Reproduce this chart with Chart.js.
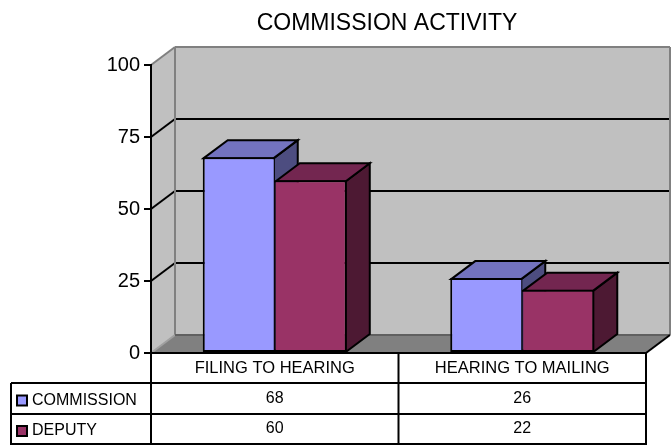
<!DOCTYPE html>
<html>
<head>
<meta charset="utf-8">
<style>
  html, body { margin: 0; padding: 0; background: #fff; }
  #wrap { position: relative; width: 671px; height: 445px; }
</style>
<script src="https://cdn.jsdelivr.net/npm/chart.js@4"></script>
</head>
<body>
<div id="wrap"><canvas id="chart"></canvas></div>
<script>
// ─── DATA ───────────────────────────────
const categories = ['FILING TO HEARING', 'HEARING TO MAILING'];
const seriesNames = ['COMMISSION', 'DEPUTY'];
const commission = [68, 26];
const deputy = [60, 22];
const chartTitle = 'COMMISSION ACTIVITY';

// ─── COLOURS ────────────────────────────
const frontColors = ['#9999ff', '#993366'];
const topColors = ['#7373bf', '#732650'];
const sideColors = ['#4d4d80', '#4d1933'];

// 3D depth of the walls and bars
const DX = 24, DY = -18;
const FONT = 'Arial, "Liberation Sans", sans-serif';

function poly(ctx, pts, fill, stroke, lw) {
  ctx.beginPath();
  pts.forEach((p, i) => i ? ctx.lineTo(p[0], p[1]) : ctx.moveTo(p[0], p[1]));
  ctx.closePath();
  if (fill) { ctx.fillStyle = fill; ctx.fill(); }
  if (stroke) { ctx.strokeStyle = stroke; ctx.lineWidth = lw || 2; ctx.lineJoin = 'miter'; ctx.stroke(); }
}

function line(ctx, x1, y1, x2, y2, color, lw) {
  ctx.beginPath();
  ctx.moveTo(x1, y1);
  ctx.lineTo(x2, y2);
  ctx.strokeStyle = color;
  ctx.lineWidth = lw || 2;
  ctx.stroke();
}

// ─── WALLS, FLOOR, BAR SIDES ────────────
const box3d = {
  id: 'box3d',
  afterLayout(chart) {
    // title sits over the plot, not over the canvas
    chart.titleBlock.left += 64;
    chart.titleBlock.right += 64;
  },
  beforeDraw(chart) {
    const { ctx, scales: { x, y } } = chart;
    const l = x.left, r = x.right, t = y.top, b = y.bottom;
    ctx.save();

    // side wall, back wall, floor
    poly(ctx, [[l, b], [l + DX, b + DY], [l + DX, t + DY], [l, t]], '#c0c0c0');
    poly(ctx, [[l + DX, b + DY], [r + DX, b + DY], [r + DX, t + DY], [l + DX, t + DY]], '#c0c0c0');
    poly(ctx, [[l, b], [l + DX, b + DY], [r + DX, b + DY], [r, b]], '#808080');

    // grid lines run along the side wall then the back wall
    y.ticks.forEach(tk => {
      if (tk.value === 0 || tk.value === y.max) return;
      const py = y.getPixelForValue(tk.value);
      line(ctx, l, py, l + DX, py + DY, '#000');
      line(ctx, l + DX, py + DY, r + DX, py + DY, '#000');
    });

    // wall outlines
    line(ctx, l, t, l + DX, t + DY, '#808080');
    line(ctx, l + DX, t + DY, r + DX, t + DY, '#808080');
    line(ctx, l + DX, t + DY, l + DX, b + DY, '#808080');
    line(ctx, r + DX, t + DY, r + DX, b + DY, '#808080');
    line(ctx, l, b, l + DX, b + DY, '#a0a0a0');
    line(ctx, l + DX, b + DY, r + DX, b + DY, '#606060');
    line(ctx, r, b, r + DX, b + DY, '#000');
    ctx.restore();
  },
  beforeDatasetsDraw(chart) {
    // top and side faces, front faces are the real bars
    const { ctx } = chart;
    ctx.save();
    chart.data.datasets.forEach((ds, i) => {
      chart.getDatasetMeta(i).data.forEach(bar => {
        const x0 = bar.x - bar.width / 2 + 1, x1 = bar.x + bar.width / 2 - 1, top = bar.y + 1;
        poly(ctx, [[x1, top], [x1 + DX, top + DY], [x1 + DX, bar.base + DY], [x1, bar.base]], sideColors[i], '#000');
        poly(ctx, [[x0, top], [x0 + DX, top + DY], [x1 + DX, top + DY], [x1, top]], topColors[i], '#000');
      });
    });
    ctx.restore();
  },
  afterDraw(chart) {
    // data table under the plot, doubles as the legend
    const { ctx, scales: { x, y } } = chart;
    const l = x.left, r = x.right, b = y.bottom;
    const mid = (x.getPixelForTick(0) + x.getPixelForTick(1)) / 2;
    const rows = [b + 30, b + 61, b + 91];
    const tableLeft = 11;
    const values = [commission, deputy];
    ctx.save();
    line(ctx, l, b, l, rows[2] + 1, '#000');
    line(ctx, mid, b, mid, rows[2] + 1, '#000');
    line(ctx, r, b, r, rows[2] + 1, '#000');
    line(ctx, tableLeft, rows[0], tableLeft, rows[2] + 1, '#000');
    rows.forEach(ry => line(ctx, tableLeft, ry, r + 1, ry, '#000'));

    ctx.textBaseline = 'middle';
    seriesNames.forEach((name, i) => {
      const cy = (rows[i] + rows[i + 1]) / 2;
      ctx.fillStyle = frontColors[i];
      ctx.fillRect(17, cy - 3, 10, 10);
      ctx.strokeStyle = '#000';
      ctx.lineWidth = 2;
      ctx.strokeRect(17, cy - 3, 10, 10);
      ctx.fillStyle = '#000';
      ctx.font = '16px ' + FONT;
      ctx.textAlign = 'left';
      ctx.fillText(name, 32, cy + 2);
      ctx.textAlign = 'center';
      values[i].forEach((v, j) => ctx.fillText(String(v), x.getPixelForTick(j), cy));
    });
    ctx.restore();
  }
};

// ─── CHART ──────────────────────────────
Chart.defaults.animation = false;
new Chart(document.getElementById('chart'), {
  type: 'bar',
  data: {
    labels: categories,
    datasets: [
      { label: seriesNames[0], data: commission, backgroundColor: frontColors[0],
        borderWidth: { left: 2, top: 2, right: 1, bottom: 2 } },
      { label: seriesNames[1], data: deputy, backgroundColor: frontColors[1],
        borderWidth: { left: 1, top: 2, right: 2, bottom: 2 } }
    ].map(ds => Object.assign(ds, {
      borderColor: '#000',
      borderSkipped: false,
      barPercentage: 1,
      categoryPercentage: 0.582
    }))
  },
  options: {
    responsive: true,
    maintainAspectRatio: false,
    animation: false,
    layout: { padding: { left: 0, right: 25, top: 0, bottom: 0 } },
    plugins: {
      legend: { display: false },
      tooltip: { enabled: false },
      title: {
        display: true,
        text: chartTitle,
        color: '#000',
        font: { family: FONT, size: 23, weight: 'normal' },
        padding: { top: 10, bottom: 27.4 }
      }
    },
    scales: {
      x: {
        afterFit: s => { s.height = 92; },
        grid: { display: false, drawTicks: false },
        border: { color: '#000', width: 2 },
        ticks: { color: '#000', font: { family: FONT, size: 16.5 }, padding: 6, maxRotation: 0 }
      },
      y: {
        min: 0,
        max: 100,
        afterFit: s => { s.width = 151; },
        grid: { drawOnChartArea: false, color: '#000', lineWidth: 2, tickLength: 7 },
        border: { color: '#000', width: 2 },
        ticks: { stepSize: 25, color: '#000', font: { family: FONT, size: 20 }, padding: 4 }
      }
    }
  },
  plugins: [box3d]
});
</script>
</body>
</html>
